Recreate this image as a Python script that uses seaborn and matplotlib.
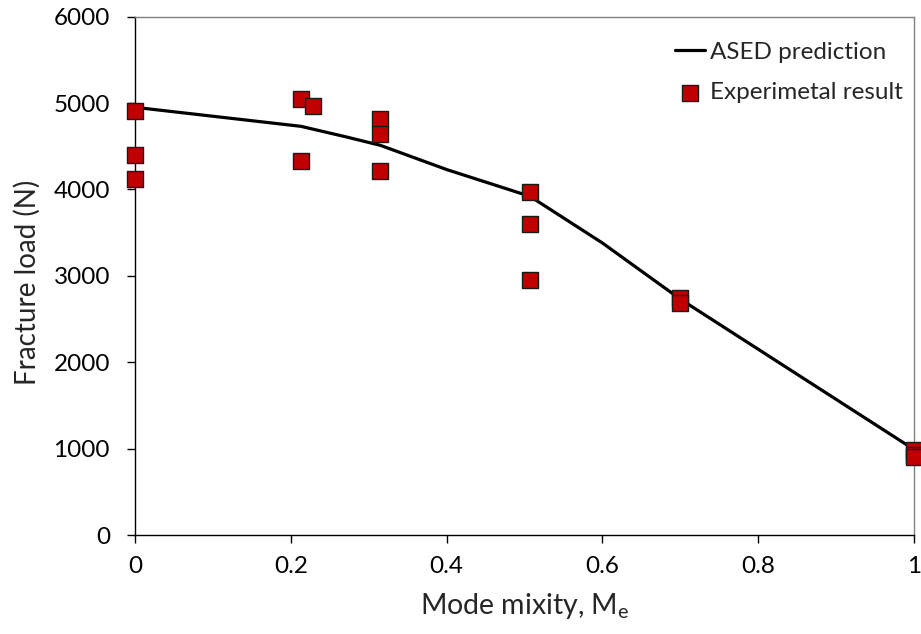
import matplotlib
matplotlib.use("Agg")
import matplotlib.pyplot as plt
import seaborn as sns
import pandas as pd

# ASED prediction curve
pred_me = [0.0, 0.213, 0.27, 0.315, 0.40, 0.507, 0.60, 0.70, 1.0]
pred_load = [4950, 4730, 4610, 4510, 4230, 3920, 3380, 2730, 990]

# Experimental results
exp_me = [0.0, 0.0, 0.0, 0.213, 0.229, 0.213, 0.315, 0.315, 0.315,
          0.507, 0.507, 0.507, 0.70, 0.70, 1.0, 1.0, 1.0]
exp_load = [4910, 4400, 4120, 5050, 4970, 4330, 4815, 4640, 4210,
            3970, 3600, 2950, 2740, 2680, 980, 930, 900]

xticks = [0, 0.2, 0.4, 0.6, 0.8, 1]
xticklabels = ["0", "0.2", "0.4", "0.6", "0.8", "1"]
yticks = [0, 1000, 2000, 3000, 4000, 5000, 6000]

sns.set_theme(style="white")
plt.rcParams['font.family'] = ['Lato', 'DejaVu Sans']
plt.rcParams['mathtext.fontset'] = 'custom'
plt.rcParams['mathtext.rm'] = 'Lato'
plt.rcParams['mathtext.it'] = 'Lato'

fig = plt.figure(figsize=(9.21, 6.34), dpi=100)
ax = fig.add_axes([135/921, 1-535/634, (914-135)/921, (535-16.6)/634])

pred_df = pd.DataFrame({"me": pred_me, "load": pred_load})
exp_df = pd.DataFrame({"me": exp_me, "load": exp_load})

sns.lineplot(data=pred_df, x="me", y="load", ax=ax, color="black",
             linewidth=2.3, label="ASED prediction", sort=False, zorder=2)
sns.scatterplot(data=exp_df, x="me", y="load", ax=ax, marker="s", s=140,
                color="#C00000", edgecolor="#1a1a1a", linewidth=1.0,
                label="Experimetal result", clip_on=False, zorder=3)

ax.set_xlim(0, 1)
ax.set_ylim(0, 6000)
ax.set_xticks(xticks)
ax.set_xticklabels(xticklabels)
ax.set_yticks(yticks)
ax.tick_params(axis="both", direction="out", length=6, width=1,
               labelsize=17.5, colors="black", bottom=True, left=True)
ax.tick_params(axis="y", pad=12)
ax.tick_params(axis="x", pad=9)

for side in ["left", "bottom"]:
    ax.spines[side].set_color("black")
    ax.spines[side].set_linewidth(1.0)
for side in ["top", "right"]:
    ax.spines[side].set_color("#808080")
    ax.spines[side].set_linewidth(1.0)

ax.set_xlabel("Mode mixity, M$_\\mathregular{e}$", fontsize=20.5, labelpad=10)
ax.set_ylabel("Fracture load (N)", fontsize=20, labelpad=9)
ax.yaxis.label.set_y(0.488)

leg = ax.legend(loc="upper right", bbox_to_anchor=(1.008, 0.984), frameon=False,
                fontsize=17.5, handlelength=1.25, handletextpad=0.2,
                labelspacing=0.8, borderaxespad=0.3)

fig.savefig("out.png", dpi=100)
